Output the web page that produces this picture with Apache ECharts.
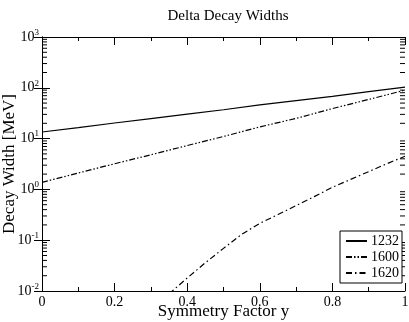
<!DOCTYPE html>
<html>
<head>
<meta charset="utf-8">
<script src="https://cdn.jsdelivr.net/npm/echarts@6/dist/echarts.min.js"></script>
<style>
  html, body { margin: 0; padding: 0; background: #fff; }
  #chart { width: 409px; height: 322px; }
</style>
</head>
<body>
<div id="chart"></div>
<script>
// symmetry factor y vs decay width [MeV]
var x1232 = [0, 0.1, 0.2, 0.3, 0.4, 0.5, 0.6, 0.7, 0.8, 0.9, 1.0]
var w1232 = [13.5, 16.5, 20.3, 24.8, 30.4, 37, 46, 56, 68, 84, 103]

var x1600 = [0, 0.1, 0.2, 0.3, 0.4, 0.5, 0.6, 0.7, 0.8, 0.9, 1.0]
var w1600 = [1.38, 2.1, 3.2, 4.8, 7.3, 11, 17, 25, 39, 59, 90]

var x1620 = [0.35, 0.4, 0.45, 0.5, 0.55, 0.6, 0.65, 0.7, 0.75, 0.8, 0.85, 0.9, 0.95, 1.0]
var w1620 = [0.0088, 0.018, 0.036, 0.069, 0.13, 0.215, 0.32, 0.48, 0.72, 1.1, 1.57, 2.24, 3.2, 4.5]

var seriesNames = ['1232', '1600', '1620']
var xTicks = [0, 0.2, 0.4, 0.6, 0.8, 1]
var yDecades = [-2, -1, 0, 1, 2, 3]
var yMinorTicks = []
yDecades.slice(0, -1).forEach(function (d) {
  for (var k = 2; k <= 9; k++) yMinorTicks.push(k * Math.pow(10, d))
})

var font = 'Liberation Serif'
var chart = echarts.init(document.getElementById('chart'))

function pairs(xs, ys) {
  return xs.map(function (x, i) { return [x, ys[i]] })
}

var axisLine = { lineStyle: { color: '#000', width: 1 } }

chart.setOption({
  backgroundColor: '#fff',
  animation: false,
  title: {
    text: 'Delta Decay Widths',
    left: 223,
    top: 4,
    textAlign: 'center',
    textStyle: { fontFamily: font, fontSize: 15, fontWeight: 'normal', color: '#000' }
  },
  legend: {
    data: seriesNames,
    orient: 'vertical',
    right: 7,
    bottom: 39,
    itemWidth: 21,
    itemHeight: 10,
    itemGap: 2,
    padding: [3, 3, 3, 5],
    borderColor: '#000',
    borderWidth: 1,
    borderRadius: 0,
    backgroundColor: '#fff',
    itemStyle: { opacity: 0 },
    textStyle: { fontFamily: font, fontSize: 14, color: '#000', padding: [0, 0, 0, -1] }
  },
  grid: { left: 42, right: 4, top: 37, bottom: 31, outerBoundsMode: 'none', containLabel: false },
  xAxis: [{
    type: 'value',
    min: 0,
    max: 1,
    interval: 0.2,
    name: 'Symmetry Factor y',
    nameLocation: 'middle',
    nameGap: 12,
    nameMoveOverlap: false,
    nameTextStyle: { fontFamily: font, fontSize: 17, color: '#000', verticalAlign: 'top' },
    axisLine: axisLine,
    axisTick: { inside: true, length: 8, lineStyle: { color: '#000' } },
    minorTick: { show: true, splitNumber: 2, length: 4, lineStyle: { color: '#000' } },
    axisLabel: {
      margin: 4,
      fontFamily: font, fontSize: 14, color: '#000',
      formatter: function (v) { return xTicks.indexOf(+v.toFixed(1)) >= 0 ? String(+v.toFixed(1)) : '' }
    },
    splitLine: { show: false }
  }, {
    type: 'value',
    min: 0,
    max: 1,
    interval: 0.2,
    position: 'top',
    axisLine: axisLine,
    axisTick: { inside: true, length: 8, lineStyle: { color: '#000' } },
    minorTick: { show: true, splitNumber: 2, length: 4, lineStyle: { color: '#000' } },
    axisLabel: { show: false },
    splitLine: { show: false }
  }],
  yAxis: [{
    type: 'log',
    logBase: 10,
    min: 0.01,
    max: 1000,
    name: 'Decay Width [MeV]',
    nameLocation: 'middle',
    nameGap: 24,
    nameMoveOverlap: false,
    nameTextStyle: { fontFamily: font, fontSize: 17, color: '#000' },
    axisLine: axisLine,
    axisTick: { inside: true, length: 8, lineStyle: { color: '#000' } },
    axisLabel: {
      margin: 3,
      formatter: function (v) {
        return '{b|10}{s|' + Math.round(Math.log10(v)) + '}'
      },
      rich: {
        b: { fontFamily: font, fontSize: 14, color: '#000' },
        s: { fontFamily: font, fontSize: 9, color: '#000', verticalAlign: 'top', padding: [0, 0, 9, 0] }
      }
    },
    splitLine: { show: false }
  }, {
    type: 'log',
    logBase: 10,
    min: 0.01,
    max: 1000,
    position: 'right',
    axisLine: axisLine,
    axisTick: { inside: true, length: 8, lineStyle: { color: '#000' } },
    axisLabel: { show: false },
    splitLine: { show: false }
  }],
  series: [{
    name: '1232',
    type: 'line',
    symbol: 'none',
    clip: true,
    lineStyle: { color: '#000', width: 1.2, type: 'solid' },
    itemStyle: { color: '#000' },
    data: pairs(x1232, w1232)
  }, {
    name: '1600',
    type: 'line',
    symbol: 'none',
    clip: true,
    lineStyle: { color: '#000', width: 1.2, type: [6, 2, 1.5, 2, 1.5, 2] },
    itemStyle: { color: '#000' },
    data: pairs(x1600, w1600)
  }, {
    name: '1620',
    type: 'line',
    symbol: 'none',
    clip: true,
    lineStyle: { color: '#000', width: 1.2, type: [6, 3, 1.5, 3] },
    itemStyle: { color: '#000' },
    data: pairs(x1620, w1620)
  }, {
    name: 'minorTicks',
    type: 'custom',
    silent: true,
    clip: false,
    data: yMinorTicks.map(function (v) { return [0, v] }),
    renderItem: function (params, api) {
      var v = api.value(1)
      var l = api.coord([0, v])
      var r = api.coord([1, v])
      var style = { stroke: '#000', lineWidth: 1 }
      return {
        type: 'group',
        children: [
          { type: 'line', shape: { x1: l[0], y1: l[1], x2: l[0] + 5, y2: l[1] }, style: style },
          { type: 'line', shape: { x1: r[0], y1: r[1], x2: r[0] - 5, y2: r[1] }, style: style }
        ]
      }
    }
  }]
})
</script>
</body>
</html>
